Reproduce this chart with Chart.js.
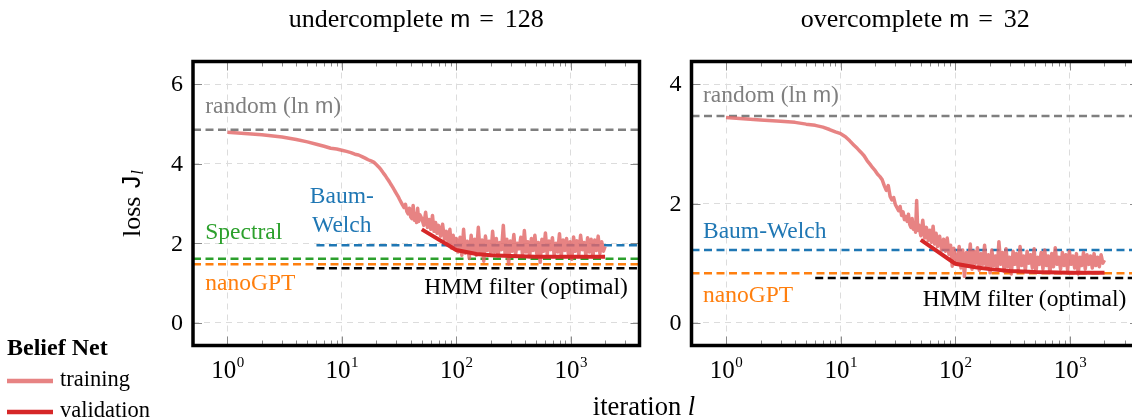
<!DOCTYPE html>
<html>
<head>
<meta charset="utf-8">
<script src="https://cdn.jsdelivr.net/npm/chart.js@4.4.1/dist/chart.umd.min.js"></script>
<style>
  html, body { margin: 0; padding: 0; background: #fff; overflow: hidden; width: 1132px; height: 419px; }
  canvas { position: absolute; left: 0; top: 0; }
</style>
</head>
<body>
<canvas id="left" width="1150" height="419"></canvas>
<canvas id="right" width="1150" height="419"></canvas>
<script>
// axis ticks
const xTicks = [1, 2, 3, 4, 5, 6, 7, 8, 9, 10, 20, 30, 40, 50, 60, 70, 80, 90,
  100, 200, 300, 400, 500, 600, 700, 800, 900, 1000, 2000, 3000, 4000];
const decades = [1, 10, 100, 1000];
const decadeExp = ['0', '1', '2', '3'];
const yTicksLeft = [0, 2, 4, 6];
const yTicksRight = [0, 2, 4];

// baselines: random, Baum-Welch, Spectral, nanoGPT, HMM filter
const refColors = ['#7f7f7f', '#1f77b4', '#2ca02c', '#ff7f0e', '#000000'];
const refLeft = [4.852, 1.95, 1.61, 1.47, 1.37];
const refLeftStart = [0.5, 6, 0.5, 0.5, 6];
const refRight = [3.466, 1.22, null, 0.83, 0.75];
const refRightStart = [0.5, 0.5, null, 0.5, 6];
const refEnd = 4000;

// belief net training loss
const trainIter = [
  1, 2, 3, 4, 5, 6, 7, 8, 9, 10, 11, 12, 13, 14, 15, 16, 17, 18, 19, 20,
  21, 22, 23, 24, 25, 26, 27, 28, 29, 30, 31, 32, 33, 34, 35, 36, 37, 38, 39, 40,
  41, 42, 43, 44, 45, 46, 47, 48,
  50, 52, 54, 56, 58, 60, 62, 64, 66, 68, 70, 73, 76, 79, 82, 85, 88, 91, 94, 97, 100,
  104, 108, 112, 116, 120, 125, 130, 135, 140, 145,
  150, 156, 162, 168, 174, 180, 187, 194, 201, 208,
  216, 224, 232, 240, 249, 258, 267, 277, 287, 297,
  308, 319, 330, 342, 354, 367, 380, 394, 408, 423,
  438, 454, 470, 487, 505, 523, 542, 561, 581, 602,
  624, 646, 669, 693, 718, 744, 771, 799, 828, 858,
  889, 921, 954, 988, 1024, 1061, 1099, 1139, 1180, 1222,
  1266, 1312, 1359, 1408, 1459, 1511, 1566, 1622, 1680, 1741,
  1803, 1868, 1935, 2000
];
const trainLeft = [
  4.79, 4.73, 4.67, 4.61, 4.55, 4.49, 4.44, 4.39, 4.37, 4.34, 4.31, 4.28, 4.24, 4.22, 4.18, 4.14, 4.10, 4.07, 4.04, 3.98,
  3.92, 3.85, 3.77, 3.70, 3.62, 3.55, 3.47, 3.40, 3.32, 3.25, 3.18, 3.10, 3.03, 2.96, 2.90, 2.98, 2.80, 2.74, 2.88, 2.66,
  2.62, 2.95, 2.58, 2.75, 2.52, 2.88, 2.55, 2.72,
  2.62, 2.45, 2.78, 2.40, 2.60, 2.35, 2.70, 2.30, 2.52, 2.25, 2.45, 2.18, 2.48, 2.10, 2.30, 2.02, 2.35, 1.88, 2.20, 1.95, 2.12,
  1.78, 2.15, 1.70, 2.35, 1.75, 2.05, 1.62, 2.20, 1.80, 2.10,
  1.70, 2.40, 1.76, 2.08, 1.55, 2.18, 1.82, 2.05, 1.72, 2.30,
  1.78, 2.12, 1.68, 2.02, 1.84, 2.45, 1.74, 2.10, 1.48, 2.06,
  1.80, 2.22, 1.72, 2.00, 1.86, 2.15, 1.70, 2.32, 1.78, 2.04,
  1.66, 2.12, 1.82, 2.20, 1.74, 2.02, 1.52, 2.10, 1.80, 2.26,
  1.72, 2.06, 1.84, 2.14, 1.70, 2.00, 1.78, 2.24, 1.68, 2.08,
  1.82, 2.12, 1.74, 2.04, 1.60, 2.16, 1.80, 2.06, 1.72, 2.20,
  1.84, 2.02, 1.70, 2.14, 1.78, 2.10, 1.66, 2.08, 1.82, 2.18,
  1.74, 2.04, 1.80, 1.92
];
const trainRight = [
  3.44, 3.40, 3.38, 3.36, 3.33, 3.31, 3.28, 3.24, 3.20, 3.17, 3.12, 3.05, 2.98, 2.92, 2.86, 2.80, 2.72, 2.66, 2.60, 2.55,
  2.49, 2.45, 2.40, 2.30, 2.22, 2.30, 2.12, 2.06, 2.10, 1.98, 1.93, 1.88, 1.95, 1.80, 1.86, 1.73, 1.78, 1.70, 1.82, 1.65,
  1.60, 1.75, 1.57, 1.68, 1.52, 2.05, 1.55, 1.64,
  1.46, 1.72, 1.42, 1.60, 1.38, 1.55, 1.35, 1.62, 1.32, 1.50, 1.28, 1.45, 1.22, 1.40, 1.20, 1.42, 1.15, 1.30, 0.95, 1.25, 1.12,
  1.00, 1.28, 0.92, 1.22, 0.78, 1.18, 0.96, 1.32, 0.90, 1.20,
  1.00, 1.26, 0.88, 1.16, 0.98, 1.30, 0.92, 1.14, 0.84, 1.22,
  0.96, 1.12, 0.90, 1.36, 0.98, 1.18, 0.86, 1.24, 0.94, 1.10,
  0.82, 1.20, 0.98, 1.16, 0.90, 1.28, 0.96, 1.12, 0.88, 1.20,
  1.00, 1.14, 0.92, 1.24, 0.86, 1.10, 0.98, 1.18, 0.90, 1.22,
  0.96, 1.12, 0.84, 1.16, 0.94, 1.26, 0.98, 1.10, 0.90, 1.18,
  0.96, 1.14, 0.88, 1.20, 0.98, 1.12, 0.92, 1.16, 0.82, 1.10,
  0.96, 1.18, 0.90, 1.14, 0.98, 1.12, 0.92, 1.16, 0.96, 1.10,
  0.94, 1.14, 1.00, 1.05
];

// belief net validation loss
const valIter = [50, 100, 150, 200, 300, 500, 1000, 2000];
const valLeft = [2.35, 1.83, 1.73, 1.70, 1.68, 1.66, 1.66, 1.66];
const valRight = [1.39, 0.99, 0.93, 0.90, 0.87, 0.85, 0.84, 0.84];

const serif = 'Liberation Serif';
const sans = 'Liberation Sans';
const trainColor = 'rgba(226, 104, 104, 0.82)';
const valColor = '#d62728';

function rich(ctx, segs, x, y, align) {
  let w = 0;
  segs.forEach(s => { ctx.font = s.f; w += ctx.measureText(s.t).width + (s.dx || 0); });
  let cx = align === 'center' ? x - w / 2 : align === 'right' ? x - w : x;
  ctx.textAlign = 'left';
  segs.forEach(s => {
    ctx.font = s.f;
    cx += s.dx || 0;
    ctx.fillText(s.t, cx, y + (s.dy || 0));
    cx += ctx.measureText(s.t).width;
  });
}

function makeDecor(cfg) {
  return {
    id: 'decor',
    afterDatasetsDraw(chart) {
      const ctx = chart.ctx, ca = chart.chartArea;
      const xs = chart.scales.x, ys = chart.scales.y;
      ctx.save();
      // inward tick marks
      ctx.strokeStyle = '#8a8a8a';
      ctx.lineWidth = 1;
      xs.ticks.forEach(t => {
        const px = Math.round(xs.getPixelForValue(t.value)) + 0.5;
        const len = t.major ? 9 : 5;
        ctx.beginPath();
        ctx.moveTo(px, ca.top); ctx.lineTo(px, ca.top + len);
        ctx.moveTo(px, ca.bottom); ctx.lineTo(px, ca.bottom - len);
        ctx.stroke();
      });
      ys.ticks.forEach(t => {
        const py = Math.round(ys.getPixelForValue(t.value)) + 0.5;
        ctx.beginPath();
        ctx.moveTo(ca.left, py); ctx.lineTo(ca.left + 9, py);
        ctx.moveTo(ca.right, py); ctx.lineTo(ca.right - 9, py);
        ctx.stroke();
      });
      // frame
      ctx.strokeStyle = '#000';
      ctx.lineWidth = 3.5;
      ctx.strokeRect(ca.left, ca.top, ca.right - ca.left, ca.bottom - ca.top);
      ctx.restore();
    },
    afterDraw(chart) {
      const ctx = chart.ctx, ca = chart.chartArea;
      const xs = chart.scales.x, ys = chart.scales.y;
      ctx.save();
      ctx.fillStyle = '#000';
      // x tick labels 10^k
      decades.forEach((d, i) => {
        const px = xs.getPixelForValue(d);
        ctx.font = '25px ' + serif;
        const w1 = ctx.measureText('10').width;
        ctx.font = '15px ' + serif;
        const w2 = ctx.measureText(decadeExp[i]).width;
        ctx.textBaseline = 'alphabetic';
        ctx.textAlign = 'left';
        ctx.font = '25px ' + serif;
        ctx.fillText('10', px - (w1 + w2) / 2, 378);
        ctx.font = '15px ' + serif;
        ctx.fillText(decadeExp[i], px - (w1 + w2) / 2 + w1 + 0.5, 367);
      });
      // y tick labels
      ctx.font = '24px ' + serif;
      ctx.textAlign = 'right';
      ctx.textBaseline = 'middle';
      cfg.yTicks.forEach(v => {
        ctx.fillText(String(v), ca.left - 10, ys.getPixelForValue(v) + 1);
      });
      // title
      ctx.textBaseline = 'middle';
      rich(ctx, cfg.title, (ca.left + ca.right) / 2, 20, 'center');
      // notes inside the plot
      cfg.notes.forEach(n => {
        ctx.fillStyle = n.c;
        rich(ctx, n.segs, xs.getPixelForValue(n.x), ys.getPixelForValue(n.y), n.align);
      });
      if (cfg.shared) {
        ctx.fillStyle = '#000';
        // y label
        ctx.save();
        ctx.translate(133, (ca.top + ca.bottom) / 2);
        ctx.rotate(-Math.PI / 2);
        rich(ctx, [
          { t: 'loss ', f: '26px ' + serif },
          { t: 'J', f: '25px ' + sans, dx: 2 },
          { t: 'l', f: 'italic 17px ' + serif, dy: 6, dx: 1 }
        ], 0, 0, 'center');
        ctx.restore();
        // x label
        rich(ctx, [
          { t: 'iteration ', f: '26.5px ' + serif },
          { t: 'l', f: 'italic 26.5px ' + serif }
        ], 644, 408, 'center');
        // legend
        ctx.textAlign = 'left';
        ctx.font = 'bold 24px ' + serif;
        ctx.fillText('Belief Net', 7, 349);
        ctx.lineWidth = 4.5;
        ctx.strokeStyle = trainColor;
        ctx.beginPath(); ctx.moveTo(7, 381); ctx.lineTo(53, 381); ctx.stroke();
        ctx.strokeStyle = valColor;
        ctx.beginPath(); ctx.moveTo(7, 412); ctx.lineTo(53, 412); ctx.stroke();
        ctx.font = '22.5px ' + serif;
        ctx.fillText('training', 60, 380);
        ctx.fillText('validation', 60, 411);
      }
      ctx.restore();
    }
  };
}

function pts(xv, yv) {
  return xv.map((x, i) => ({ x: x, y: yv[i] }));
}

function makePanel(id, p) {
  const datasets = [];
  p.refs.forEach((v, i) => {
    if (v === null) return;
    datasets.push({
      data: [{ x: p.refStart[i], y: v }, { x: refEnd, y: v }],
      borderColor: refColors[i],
      borderWidth: 2.5,
      borderDash: [8, 4.5],
      pointRadius: 0,
      order: 3
    });
  });
  datasets.push({
    data: pts(trainIter, p.train),
    borderColor: trainColor,
    borderWidth: 3.5,
    borderJoinStyle: 'round',
    pointRadius: 0,
    order: 2
  });
  datasets.push({
    data: pts(valIter, p.val),
    borderColor: valColor,
    borderWidth: 4,
    pointRadius: 0,
    order: 1
  });

  new Chart(document.getElementById(id).getContext('2d'), {
    type: 'line',
    data: { datasets: datasets },
    options: {
      responsive: false,
      animation: false,
      events: [],
      layout: { padding: { left: p.padLeft, right: p.padRight, top: 61.5, bottom: 73.5 } },
      plugins: { legend: { display: false }, tooltip: { enabled: false } },
      scales: {
        x: {
          type: 'logarithmic',
          min: 0.5,
          max: 4000,
          afterBuildTicks: s => { s.ticks = xTicks.map(v => ({ value: v, major: decades.includes(v) })); },
          afterFit: s => { s.height = 0; },
          ticks: { display: false },
          grid: {
            drawTicks: false,
            lineWidth: 1,
            color: c => (c.tick && c.tick.major) ? '#dcdcdc' : 'rgba(0,0,0,0)'
          },
          border: { display: false, dash: [6, 5] }
        },
        y: {
          min: p.yMin,
          max: p.yMax,
          afterBuildTicks: s => { s.ticks = p.yTicks.map(v => ({ value: v })); },
          afterFit: s => { s.width = 0; },
          ticks: { display: false },
          grid: { drawTicks: false, lineWidth: 1, color: '#dcdcdc' },
          border: { display: false, dash: [6, 5] }
        }
      }
    },
    plugins: [makeDecor(p)]
  });
}

const big = '23.5px ' + serif;

makePanel('left', {
  padLeft: 193, padRight: 510.5,
  yMin: -0.57, yMax: 6.57, yTicks: yTicksLeft,
  refs: refLeft, refStart: refLeftStart,
  train: trainLeft, val: valLeft,
  shared: true,
  title: [
    { t: 'undercomplete', f: '26px ' + serif },
    { t: 'm', f: '24px ' + sans, dx: 7 },
    { t: '=', f: '26px ' + serif, dx: 9 },
    { t: '128', f: '26px ' + serif, dx: 11 }
  ],
  notes: [
    { c: '#7f7f7f', x: 0.64, y: 5.44, align: 'left',
      segs: [{ t: 'random (ln ', f: big }, { t: 'm', f: '22px ' + sans }, { t: ')', f: big }] },
    { c: '#1f77b4', x: 10, y: 3.18, align: 'center', segs: [{ t: 'Baum-', f: big }] },
    { c: '#1f77b4', x: 10, y: 2.45, align: 'center', segs: [{ t: 'Welch', f: big }] },
    { c: '#2ca02c', x: 0.64, y: 2.26, align: 'left', segs: [{ t: 'Spectral', f: big }] },
    { c: '#ff7f0e', x: 0.64, y: 0.98, align: 'left', segs: [{ t: 'nanoGPT', f: big }] },
    { c: '#000000', x: 3162, y: 0.87, align: 'right', segs: [{ t: 'HMM filter (optimal)', f: big }] }
  ]
});

makePanel('right', {
  padLeft: 691.5, padRight: 11,
  yMin: -0.38, yMax: 4.38, yTicks: yTicksRight,
  refs: refRight, refStart: refRightStart,
  train: trainRight, val: valRight,
  shared: false,
  title: [
    { t: 'overcomplete', f: '26px ' + serif },
    { t: 'm', f: '24px ' + sans, dx: 7 },
    { t: '=', f: '26px ' + serif, dx: 9 },
    { t: '32', f: '26px ' + serif, dx: 11 }
  ],
  notes: [
    { c: '#7f7f7f', x: 0.63, y: 3.81, align: 'left',
      segs: [{ t: 'random (ln ', f: big }, { t: 'm', f: '22px ' + sans }, { t: ')', f: big }] },
    { c: '#1f77b4', x: 0.63, y: 1.53, align: 'left', segs: [{ t: 'Baum-Welch', f: big }] },
    { c: '#ff7f0e', x: 0.63, y: 0.46, align: 'left', segs: [{ t: 'nanoGPT', f: big }] },
    { c: '#000000', x: 3100, y: 0.38, align: 'right', segs: [{ t: 'HMM filter (optimal)', f: big }] }
  ]
});
</script>
</body>
</html>
